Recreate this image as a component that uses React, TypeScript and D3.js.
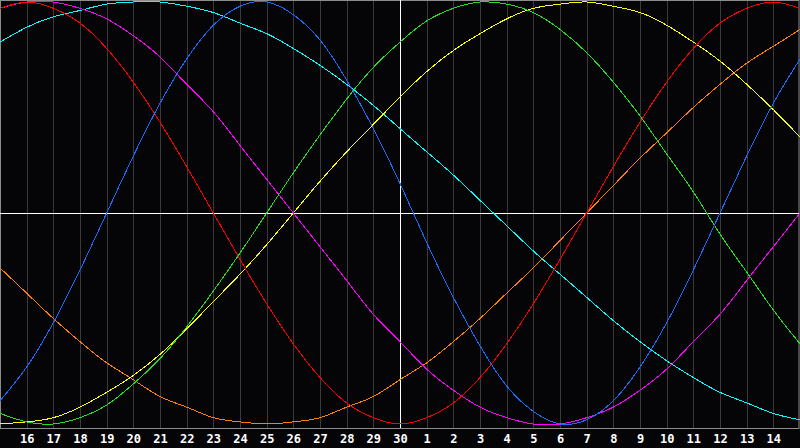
import { useEffect, useRef } from 'react';
import * as d3 from 'd3';

// ─── Data (one value per day, percent of cycle amplitude) ───

const DAYS = [
  15, 16, 17, 18, 19, 20, 21, 22, 23, 24, 25, 26, 27, 28, 29, 30,
  1, 2, 3, 4, 5, 6, 7, 8, 9, 10, 11, 12, 13, 14, 15,
];

const TODAY_INDEX = 15; // day 30

const PHYSICAL = [
  -89, -73, -52, -27, 0, 27, 52, 73, 89, 98, 100, 94, 82, 63, 40, 14,
  -14, -40, -63, -82, -94, -100, -98, -89, -73, -52, -27, 0, 27, 52, 73,
];
const EMOTIONAL = [
  97, 100, 97, 90, 78, 62, 43, 22, 0, -22, -43, -62, -78, -90, -97, -100,
  -97, -90, -78, -62, -43, -22, 0, 22, 43, 62, 78, 90, 97, 100, 97,
];
const INTELLECTUAL = [
  -95, -99, -100, -97, -91, -81, -69, -54, -37, -19, 0, 19, 37, 54, 69, 81,
  91, 97, 100, 99, 95, 87, 76, 62, 46, 28, 10, -10, -28, -46, -62,
];
const INTUITIVE = [
  97, 100, 100, 97, 92, 84, 74, 61, 48, 32, 16, 0, -16, -32, -48, -61,
  -74, -84, -92, -97, -100, -100, -97, -92, -84, -74, -61, -48, -32, -16, 0,
];
const AESTHETIC = [
  -100, -99, -97, -92, -85, -77, -67, -55, -42, -29, -15, 0, 15, 29, 42, 55,
  67, 77, 85, 92, 97, 99, 100, 98, 95, 89, 81, 72, 61, 49, 36,
];
const AWARENESS = [
  -26, -38, -50, -61, -71, -79, -87, -92, -97, -99, -100, -99, -97, -92, -87, -79,
  -71, -61, -50, -38, -26, -13, 0, 13, 26, 38, 50, 61, 71, 79, 87,
];
const SPIRITUAL = [
  81, 88, 93, 96, 99, 100, 100, 98, 95, 90, 85, 78, 70, 61, 51, 40,
  29, 18, 6, -6, -18, -29, -40, -51, -61, -70, -78, -85, -90, -95, -98,
];

const SERIES = [
  { name: 'spiritual', values: SPIRITUAL, color: '#00ffff' },
  { name: 'awareness', values: AWARENESS, color: '#ff8000' },
  { name: 'aesthetic', values: AESTHETIC, color: '#ffff00' },
  { name: 'intuitive', values: INTUITIVE, color: '#ff00ff' },
  { name: 'intellectual', values: INTELLECTUAL, color: '#22e022' },
  { name: 'emotional', values: EMOTIONAL, color: '#ff0000' },
  { name: 'physical', values: PHYSICAL, color: '#1a6cff' },
];

// ─── Layout ─────────────────────────────────────────────────

const WIDTH = 800;
const HEIGHT = 448;
const PLOT_BOTTOM = 428;

export default function App() {
  const svgRef = useRef<SVGSVGElement>(null);

  useEffect(() => {
    if (!svgRef.current) return;
    const svg = d3.select(svgRef.current);
    svg.selectAll('*').remove();

    const x = d3.scaleLinear().domain([0, DAYS.length - 1]).range([0, WIDTH]);
    const y = d3.scaleLinear().domain([-100, 100]).range([424, 2]);

    svg.append('rect')
      .attr('width', WIDTH).attr('height', HEIGHT)
      .attr('fill', '#050507');

    // Day grid
    const inner = d3.range(1, DAYS.length - 1);
    svg.append('g').selectAll('line')
      .data(inner.filter((i) => i !== TODAY_INDEX))
      .join('line')
      .attr('x1', (i) => Math.round(x(i)) + 0.5).attr('x2', (i) => Math.round(x(i)) + 0.5)
      .attr('y1', 0).attr('y2', PLOT_BOTTOM)
      .attr('stroke', '#3a3a3a')
      .attr('stroke-width', 1);

    // Frame
    svg.append('rect')
      .attr('x', 0.5).attr('y', 0.5)
      .attr('width', WIDTH - 1.5).attr('height', PLOT_BOTTOM)
      .attr('fill', 'none')
      .attr('stroke', '#8c8c8c');

    // Today + zero lines
    svg.append('line')
      .attr('x1', Math.round(x(TODAY_INDEX)) + 0.5).attr('x2', Math.round(x(TODAY_INDEX)) + 0.5)
      .attr('y1', 0).attr('y2', PLOT_BOTTOM)
      .attr('stroke', '#ffffff');
    svg.append('line')
      .attr('x1', 0).attr('x2', WIDTH)
      .attr('y1', Math.round(y(0)) + 0.5).attr('y2', Math.round(y(0)) + 0.5)
      .attr('stroke', '#ffffff');

    // Cycles
    const lineGen = d3.line<number>()
      .x((_, i) => x(i))
      .y((d) => y(d))
      .curve(d3.curveNatural);

    SERIES.forEach((s) => {
      svg.append('path').datum(s.values)
        .attr('fill', 'none')
        .attr('stroke', s.color)
        .attr('stroke-width', 1)
        .attr('shape-rendering', 'crispEdges')
        .attr('d', lineGen);
    });

    // Day labels
    svg.append('g').selectAll('text')
      .data(inner)
      .join('text')
      .attr('x', (i) => x(i) + 0.5)
      .attr('y', 443)
      .attr('text-anchor', 'middle')
      .attr('fill', '#ffffff')
      .attr('font-family', '"DejaVu Sans Mono", monospace')
      .attr('font-weight', 'bold')
      .attr('font-size', '12px')
      .text((i) => String(DAYS[i]));
  }, []);

  return (
    <div style={{ position: 'absolute', left: 0, top: 0 }}>
      <svg ref={svgRef} width={WIDTH} height={HEIGHT} style={{ display: 'block' }} />
    </div>
  );
}
